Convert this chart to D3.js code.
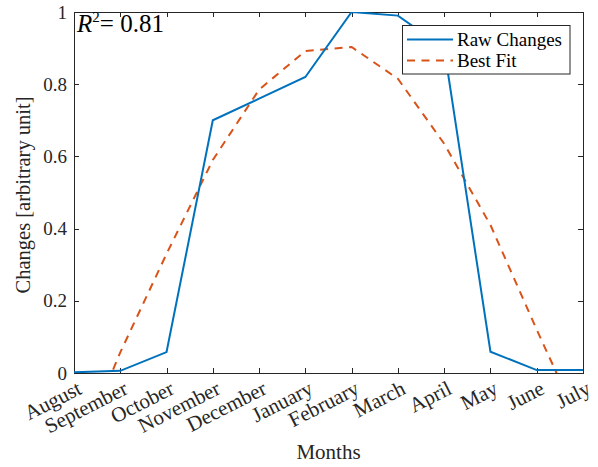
<!DOCTYPE html>
<html><head><meta charset="utf-8">
<script src="https://cdn.jsdelivr.net/npm/d3@7"></script>
<style>body{margin:0;background:#fff}svg{display:block}</style>
</head><body><div id="chart"></div>
<script>
const months = ["August","September","October","November","December","January","February","March","April","May","June","July"];
const rawChanges = [0.002,0.006,0.058,0.70,0.76,0.82,1.0,0.99,0.90,0.059,0.008,0.008];
const bestFit = [-0.25,0.057,0.33,0.59,0.785,0.892,0.903,0.815,0.635,0.41,0.12,-0.16];
const yTicks = [0,0.2,0.4,0.6,0.8,1];
const yTickLabels = ["0","0.2","0.4","0.6","0.8","1"];
const seriesNames = ["Raw Changes","Best Fit"];
const r2Text = "0.81";

const W=598,H=467;
const m={l:74,r:15,t:12,b:94};
const pw=W-m.l-m.r, ph=H-m.t-m.b;
const svg=d3.select("#chart").append("svg").attr("width",W).attr("height",H);
const font="'Liberation Serif','Times New Roman',serif";
const x=d3.scaleLinear().domain([0,months.length-1]).range([m.l,m.l+pw]);
const y=d3.scaleLinear().domain([0,1]).range([m.t+ph,m.t]);
const axCol="#262626";

svg.append("defs").append("clipPath").attr("id","clip").append("rect")
  .attr("x",m.l).attr("y",m.t).attr("width",pw).attr("height",ph);

const xAxisB=d3.axisBottom(x).tickValues(d3.range(months.length)).tickFormat("").tickSizeInner(-5).tickSizeOuter(0);
const xAxisT=d3.axisTop(x).tickValues(d3.range(months.length)).tickFormat("").tickSizeInner(-5).tickSizeOuter(0);
const yAxisL=d3.axisLeft(y).tickValues(yTicks).tickFormat((d,i)=>yTickLabels[i]).tickSizeInner(-5).tickSizeOuter(0).tickPadding(7);
const yAxisR=d3.axisRight(y).tickValues(yTicks).tickFormat("").tickSizeInner(-5).tickSizeOuter(0);

function style(g){g.selectAll("path,line").attr("stroke",axCol).attr("stroke-width",1).attr("shape-rendering","crispEdges");
  g.selectAll("text").attr("fill",axCol).style("font-family",font).style("font-size","19px");}
svg.append("g").attr("transform",`translate(0,${m.t+ph})`).call(xAxisB).call(style);
svg.append("g").attr("transform",`translate(0,${m.t})`).call(xAxisT).call(style);
svg.append("g").attr("transform",`translate(${m.l},0)`).call(yAxisL).call(style);
svg.append("g").attr("transform",`translate(${m.l+pw},0)`).call(yAxisR).call(style);

svg.append("g").selectAll("text").data(months).join("text")
  .attr("transform",(d,i)=>`translate(${x(i)+9},${m.t+ph+20}) rotate(-27)`)
  .attr("text-anchor","end").attr("fill",axCol)
  .style("font-family",font).style("font-size","21px").text(d=>d);

svg.append("text").attr("x",m.l+pw/2).attr("y",459).attr("text-anchor","middle")
  .attr("fill",axCol).style("font-family",font).style("font-size","21px").text("Months");
svg.append("text").attr("transform",`translate(30,195) rotate(-90)`).attr("text-anchor","middle")
  .attr("fill",axCol).style("font-family",font).style("font-size","20.5px").text("Changes [arbitrary unit]");

const line=d3.line().x((d,i)=>x(i)).y(d=>y(d));
const plot=svg.append("g").attr("clip-path","url(#clip)");
plot.append("path").datum(bestFit).attr("d",line).attr("fill","none")
  .attr("stroke","#D95319").attr("stroke-width",2).attr("stroke-dasharray","8,6.5");
plot.append("path").datum(rawChanges).attr("d",line).attr("fill","none")
  .attr("stroke","#0072BD").attr("stroke-width",2);

const rt=svg.append("text").attr("x",m.l+3).attr("y",32).attr("fill","#000")
  .style("font-family",font).style("font-size","25px");
rt.append("tspan").style("font-style","italic").text("R");
rt.append("tspan").attr("dy",-10).style("font-size","15px").text("2");
rt.append("tspan").attr("dy",10).text("= "+r2Text);

const lg=svg.append("g");
lg.append("rect").attr("x",402.5).attr("y",25.5).attr("width",167.5).attr("height",48.5)
  .attr("fill","#fff").attr("stroke",axCol).attr("stroke-width",1);
const lgColors=["#0072BD","#D95319"], lgDash=[null,"8,6.5"], lgY=[39.5,60.5];
seriesNames.forEach((s,i)=>{
  lg.append("line").attr("x1",407).attr("x2",453).attr("y1",lgY[i]).attr("y2",lgY[i])
    .attr("stroke",lgColors[i]).attr("stroke-width",2).attr("stroke-dasharray",lgDash[i]);
  lg.append("text").attr("x",457).attr("y",lgY[i]+6).attr("fill","#000")
    .style("font-family",font).style("font-size","19px").text(s);
});
</script></body></html>
